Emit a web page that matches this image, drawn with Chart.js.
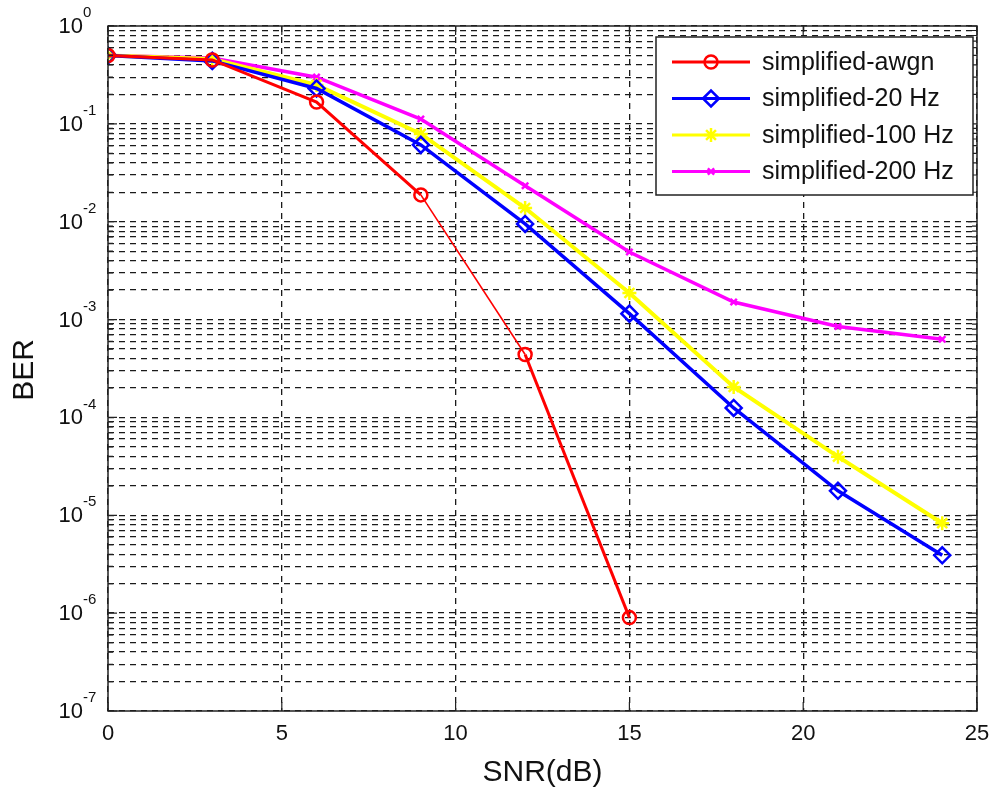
<!DOCTYPE html>
<html lang="en">
<head>
  <meta charset="UTF-8">
  <title>BER vs SNR</title>
  <script src="https://cdn.jsdelivr.net/npm/chart.js"></script>
  <style>
    body { margin: 0; background: #fff; }
    #wrap { width: 994px; height: 793px; }
  </style>
</head>
<body>
  <div id="wrap"><canvas id="berChart" width="994" height="793"></canvas></div>

  <script>
    // SNR points (dB)
    const snrAwgn = [0, 3, 6, 9, 12, 15];
    const snrFade = [0, 3, 6, 9, 12, 15, 18, 21, 24];

    // BER values
    const berAwgn = [0.5, 0.45, 0.167, 0.0188, 4.4e-4, 9e-7];
    const ber20 = [0.5, 0.44, 0.23, 0.061, 0.0095, 1.15e-3, 1.25e-4, 1.78e-5, 3.9e-6];
    const ber100 = [0.5, 0.46, 0.25, 0.079, 0.0138, 1.87e-3, 2.05e-4, 3.97e-5, 8.3e-6];
    const ber200 = [0.5, 0.47, 0.30, 0.112, 0.0233, 4.9e-3, 1.51e-3, 8.5e-4, 6.3e-4];

    const seriesNames = ['simplified-awgn', 'simplified-20 Hz', 'simplified-100 Hz', 'simplified-200 Hz'];
    const xTicks = [0, 5, 10, 15, 20, 25];
    const decades = [-7, -6, -5, -4, -3, -2, -1, 0];

    const pts = (xs, ys) => xs.map((x, i) => ({ x: x, y: ys[i] }));

    // every 1..9 x 10^n tick for the minor grid
    const yTickValues = [];
    decades.forEach(e => {
      for (let k = 1; k <= 9; k++) {
        if (e === 0 && k > 1) break;
        yTickValues.push(k * Math.pow(10, e));
      }
    });

    const FONT = 'Arial, "Liberation Sans", sans-serif';

    const ds = (label, data, color, style, r, width) => ({
      label: label,
      data: data,
      borderColor: color,
      backgroundColor: 'rgba(0,0,0,0)',
      borderWidth: width,
      pointStyle: style,
      pointRadius: r,
      pointBorderWidth: 2.5,
      pointBorderColor: color,
      pointBackgroundColor: 'rgba(0,0,0,0)',
      tension: 0
    });

    // frame, tick marks, tick labels and the legend
    const decorations = {
      id: 'decorations',
      afterDraw(chart) {
        const { ctx, chartArea: a, scales } = chart;
        const xs = scales.x, ys = scales.y;
        ctx.save();

        // axes box
        ctx.strokeStyle = '#222';
        ctx.lineWidth = 1.5;
        ctx.strokeRect(a.left, a.top, a.right - a.left, a.bottom - a.top);

        // inner tick marks
        ctx.lineWidth = 1.2;
        ctx.beginPath();
        xTicks.forEach(v => {
          const px = xs.getPixelForValue(v);
          ctx.moveTo(px, a.bottom); ctx.lineTo(px, a.bottom - 9);
          ctx.moveTo(px, a.top); ctx.lineTo(px, a.top + 9);
        });
        yTickValues.forEach(v => {
          const py = ys.getPixelForValue(v);
          const len = Number.isInteger(Math.log10(v)) ? 9 : 5;
          ctx.moveTo(a.left, py); ctx.lineTo(a.left + len, py);
          ctx.moveTo(a.right, py); ctx.lineTo(a.right - len, py);
        });
        ctx.stroke();

        // x tick labels
        ctx.fillStyle = '#111';
        ctx.font = '22px ' + FONT;
        ctx.textAlign = 'center';
        ctx.textBaseline = 'middle';
        xTicks.forEach(v => ctx.fillText(String(v), xs.getPixelForValue(v), a.bottom + 23));

        // y tick labels 10^n
        decades.forEach(e => {
          const py = ys.getPixelForValue(Math.pow(10, e));
          ctx.font = '15px ' + FONT;
          ctx.textAlign = 'left';
          ctx.fillText(String(e), 83, py - 13);
          ctx.font = '22px ' + FONT;
          ctx.textAlign = 'right';
          ctx.fillText('10', 83, py + 1);
        });

        // axis titles
        ctx.font = '30px ' + FONT;
        ctx.textAlign = 'center';
        ctx.fillText('SNR(dB)', (a.left + a.right) / 2, 773);
        ctx.save();
        ctx.translate(25, 370);
        ctx.rotate(-Math.PI / 2);
        ctx.fillText('BER', 0, 0);
        ctx.restore();

        // legend box
        const lx = 656, ly = 37, lw = 317, lh = 158;
        ctx.fillStyle = '#fff';
        ctx.fillRect(lx, ly, lw, lh);
        ctx.strokeStyle = '#222';
        ctx.lineWidth = 1.5;
        ctx.strokeRect(lx, ly, lw, lh);
        chart.data.datasets.forEach((d, i) => {
          const ry = 62 + i * 36.5;
          ctx.strokeStyle = d.borderColor;
          ctx.lineWidth = 3;
          ctx.beginPath();
          ctx.moveTo(672, ry); ctx.lineTo(750, ry);
          ctx.stroke();
          ctx.lineWidth = 2.5;
          ctx.fillStyle = 'rgba(0,0,0,0)';
          Chart.helpers.drawPoint(ctx, { pointStyle: d.pointStyle, radius: d.pointRadius, rotation: 0, borderWidth: 2.5 }, 711, ry);
          ctx.fillStyle = '#111';
          ctx.font = '25px ' + FONT;
          ctx.textAlign = 'left';
          ctx.textBaseline = 'middle';
          ctx.fillText(d.label, 762, ry + 1);
        });
        ctx.restore();
      }
    };

    const awgn = ds(seriesNames[0], pts(snrAwgn, berAwgn), '#ff0000', 'circle', 6.5, 3);
    // the 9 -> 12 dB piece of the awgn curve is drawn thinner in the original
    awgn.segment = { borderWidth: c => (c.p0DataIndex === 3 ? 1.6 : 3) };

    const ctx = document.getElementById('berChart').getContext('2d');
    new Chart(ctx, {
      type: 'line',
      data: {
        datasets: [
          awgn,
          ds(seriesNames[1], pts(snrFade, ber20), '#0000ff', 'rectRot', 8, 3.5),
          ds(seriesNames[2], pts(snrFade, ber100), '#ffff00', 'star', 7, 4),
          ds(seriesNames[3], pts(snrFade, ber200), '#ff00ff', 'crossRot', 4.5, 3.5)
        ]
      },
      options: {
        responsive: false,
        animation: false,
        layout: { padding: { left: 0, top: 26, right: 17, bottom: 0 } },
        plugins: { legend: { display: false }, tooltip: { enabled: false } },
        scales: {
          x: {
            type: 'linear',
            min: 0,
            max: 25,
            afterBuildTicks: s => { s.ticks = xTicks.map(v => ({ value: v })); },
            afterFit: s => { s.height = 82; },
            ticks: { display: false },
            border: { display: false, dash: [6, 5] },
            grid: { color: '#1a1a1a', lineWidth: 1.3, drawTicks: false }
          },
          y: {
            type: 'logarithmic',
            min: 1e-7,
            max: 1,
            afterBuildTicks: s => { s.ticks = yTickValues.map(v => ({ value: v })); },
            afterFit: s => { s.width = 108; },
            ticks: { display: false },
            border: { display: false, dash: [6, 5] },
            grid: { color: '#1a1a1a', lineWidth: 1.3, drawTicks: false }
          }
        }
      },
      plugins: [decorations]
    });
  </script>
</body>
</html>
